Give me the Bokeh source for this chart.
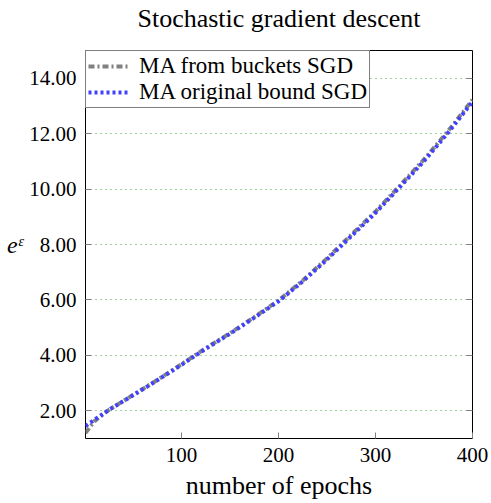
from bokeh.plotting import figure
from bokeh.models import (Range1d, FixedTicker, PrintfTickFormatter, LinearAxis, Title)
from bokeh.embed import file_html
from bokeh.resources import INLINE

# ---- data ----
epochs = [1, 10, 25, 50, 75, 100, 125, 150, 175, 200, 225, 250, 275, 300, 325, 350, 375, 400]
ma_buckets = [1.20, 1.62, 2.03, 2.57, 3.11, 3.68, 4.26, 4.80, 5.38, 5.98, 6.70, 7.50, 8.35, 9.19, 10.12, 11.07, 12.10, 13.22]
ma_original = [1.45, 1.67, 2.03, 2.56, 3.10, 3.66, 4.24, 4.78, 5.36, 5.95, 6.67, 7.46, 8.30, 9.14, 10.07, 11.01, 12.04, 13.15]
x_ticks = [100, 200, 300, 400]
y_ticks = [2, 4, 6, 8, 10, 12, 14]
series_labels = ["MA from buckets SGD", "MA original bound SGD"]
title_text = "Stochastic gradient descent"
xlabel_text = "number of epochs"
ylabel_text = "e\u1d4b"

FONT = "Liberation Serif"

p = figure(width=491, height=503, output_backend="svg", toolbar_location=None,
           x_range=Range1d(1, 400), y_range=Range1d(1, 15), title=None,
           min_border_left=85, min_border_right=19, min_border_top=50, min_border_bottom=65)
p.background_fill_color = "white"
p.border_fill_color = "white"
p.outline_line_color = "black"
p.outline_line_width = 1

# title: a small empty spacer title sits next to the frame, the real title above it
spacer = Title(text=" ", text_font_size="14px", standoff=0)
p.add_layout(spacer, "above")
main_title = Title(text=title_text, align="center", text_font=FONT, text_font_size="26px",
                   text_font_style="normal", text_color="black", standoff=0)
p.add_layout(main_title, "above")

# series
p.line(epochs, ma_buckets, line_color="#808080", line_width=4, line_dash="6 3 2 3",
       legend_label=series_labels[0])
p.line(epochs, ma_original, line_color="#4040ff", line_width=4, line_dash="3 3",
       line_cap="butt", legend_label=series_labels[1])

# axes
def style_axis(ax, show_labels=True):
    ax.axis_line_color = None
    ax.major_tick_in = 6
    ax.major_tick_out = 0
    ax.major_tick_line_color = "#808080"
    ax.major_tick_line_width = 1
    ax.minor_tick_line_color = None
    ax.major_label_text_font = FONT
    ax.major_label_text_color = "black"
    ax.major_label_text_font_size = "21px"
    ax.major_label_standoff = 9 if show_labels else 0

p.xaxis.ticker = FixedTicker(ticks=x_ticks)
p.yaxis.ticker = FixedTicker(ticks=y_ticks)
p.yaxis.formatter = PrintfTickFormatter(format="%.2f")
for ax in p.xaxis + p.yaxis:
    style_axis(ax)

xa = p.xaxis[0]
xa.axis_label = xlabel_text
xa.axis_label_text_font = FONT
xa.axis_label_text_font_size = "26px"
xa.axis_label_text_font_style = "normal"
xa.axis_label_text_color = "black"
xa.axis_label_standoff = 6

ya = p.yaxis[0]
ya.axis_label = ylabel_text
ya.axis_label_text_font = FONT
ya.axis_label_text_font_size = "24px"
ya.axis_label_text_font_style = "italic"
ya.axis_label_text_color = "black"
ya.axis_label_standoff = 3
ya.axis_label_orientation = "horizontal"

# mirrored ticks on the right side, without labels
right_ax = LinearAxis(ticker=FixedTicker(ticks=y_ticks),
                      major_label_overrides={t: "" for t in y_ticks})
style_axis(right_ax, show_labels=False)
p.add_layout(right_ax, "right")

# grid
p.xgrid.visible = False
p.ygrid.grid_line_color = "#2e9a2e"
p.ygrid.grid_line_alpha = 0.9
p.ygrid.grid_line_dash = "1 4"
p.ygrid.grid_line_width = 1

# legend
lg = p.legend[0]
lg.location = "top_left"
lg.margin = 0
lg.padding = 2
lg.spacing = 0
lg.border_line_color = "black"
lg.border_line_width = 1
lg.background_fill_color = "white"
lg.background_fill_alpha = 1
lg.glyph_width = 42
lg.glyph_height = 20
lg.label_height = 20
lg.label_standoff = 9
lg.label_text_font = FONT
lg.label_text_font_size = "23px"
lg.label_text_color = "black"

open("out.html", "w").write(file_html(p, INLINE))
